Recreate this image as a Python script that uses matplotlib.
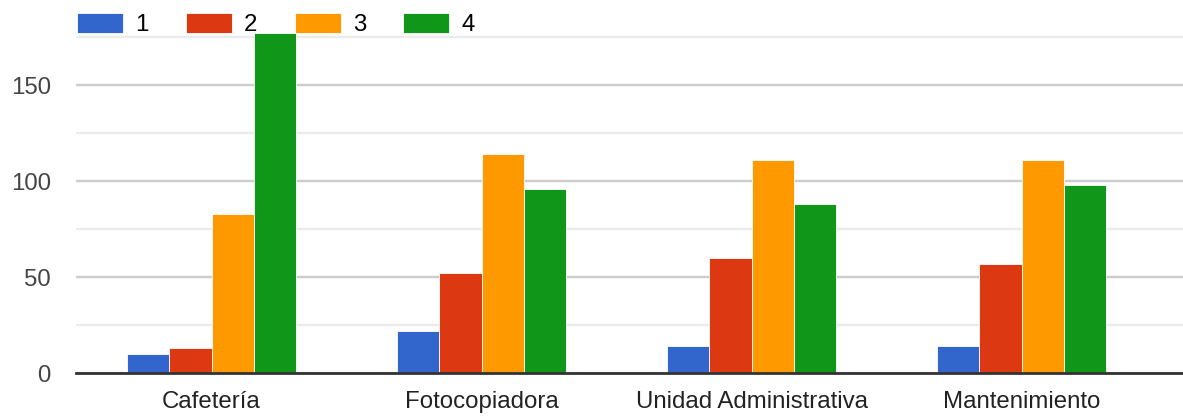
import matplotlib
matplotlib.use("Agg")
import matplotlib.pyplot as plt
import numpy as np

# data
categories = ["Cafetería", "Fotocopiadora", "Unidad Administrativa", "Mantenimiento"]
series_names = ["1", "2", "3", "4"]
s1 = [10, 22, 14, 14]
s2 = [13, 52, 60, 57]
s3 = [83, 114, 111, 111]
s4 = [177, 96, 88, 98]
colors = ["#3366cc", "#dc3912", "#ff9900", "#109618"]

plt.rcParams["font.family"] = ["Liberation Sans", "DejaVu Sans"]

W, H = 1183, 417
fig = plt.figure(figsize=(W / 100, H / 100), dpi=100)
# plot area in pixels: left 76, right edge, zero line at y=373.3
ax = fig.add_axes([76 / W, (H - 373.3) / H, (W - 76) / W, (373.3 - 27.7) / H])

x = np.arange(len(categories))
bw = 0.156
for i, (vals, name) in enumerate(zip([s1, s2, s3, s4], series_names)):
    ax.bar(x + (i - 1.5) * bw, vals, width=bw, color=colors[i], label=name,
           edgecolor="white", linewidth=0.6, zorder=3)

ax.set_xlim(-0.502, 3.598)
ax.set_ylim(0, 180)

ax.set_yticks([0, 50, 100, 150])
ax.set_yticks([25, 75, 125, 175], minor=True)
ax.grid(axis="y", which="major", color="#cccccc", linewidth=1.7, zorder=0)
ax.grid(axis="y", which="minor", color="#ebebeb", linewidth=1.7, zorder=0)
ax.axhline(0, color="#333333", linewidth=2.0, zorder=4, clip_on=False)

ax.set_xticks(x)
ax.set_xticklabels(categories, fontsize=17.3, color="#222222")
ax.tick_params(axis="x", length=0, pad=12.5)
ax.tick_params(axis="y", which="both", length=0, pad=18, labelsize=17.3,
               labelcolor="#444444")

for s in ax.spines.values():
    s.set_visible(False)

ax.legend(loc="upper left", bbox_to_anchor=(77 / W, 1 - 13 / H),
          bbox_transform=fig.transFigure, ncol=4, frameon=False,
          fontsize=17.3, handlelength=1.92, handleheight=0.92,
          handletextpad=0.5, columnspacing=1.55, borderpad=0, borderaxespad=0)

fig.savefig("out.png", dpi=100)
